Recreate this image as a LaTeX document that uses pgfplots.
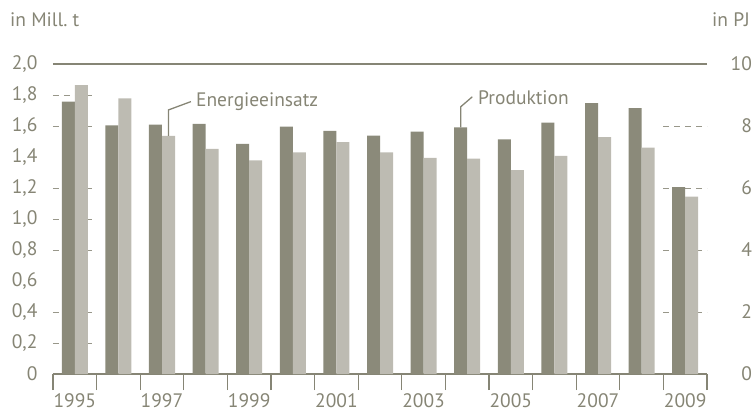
\documentclass[border=0pt]{standalone}
\usepackage{fontspec}
\setmainfont{PT Sans}
\usepackage{pgfplots}
\usepackage{pgfplotstable}
\pgfplotsset{compat=1.18}
\definecolor{darkbar}{HTML}{8B8A7A}
\definecolor{lightbar}{HTML}{BDBBB2}
\definecolor{txt}{HTML}{868575}

% Produktion in Mill. t, Energieeinsatz in PJ; idx 0 = 1995
\pgfplotstableread{
idx year prod  energy
0  1995 1.757 9.32
1  1996 1.604 8.89
2  1997 1.609 7.68
3  1998 1.613 7.26
4  1999 1.484 6.89
5  2000 1.596 7.15
6  2001 1.568 7.48
7  2002 1.538 7.15
8  2003 1.563 6.97
9  2004 1.591 6.95
10 2005 1.514 6.58
11 2006 1.622 7.04
12 2007 1.748 7.64
13 2008 1.716 7.30
14 2009 1.206 5.72
}\datatable

\pgfplotsset{
  base/.style={
    at={(0,0)}, anchor=south west,
    scale only axis, width=654pt, height=310pt,
    xmin=-0.5, xmax=14.5, ymin=0,
    major tick length=0pt,
    tick label style={font=\fontsize{19.5}{22}\selectfont, text=txt},
    ytick style={draw=none},
  },
}

\begin{document}
\begin{tikzpicture}[font=\fontsize{19.5}{22}\selectfont]
\useasboundingbox (-53pt,-39pt) rectangle (700pt,374pt);
\begin{axis}[base,
  ymax=2,
  separate axis lines,
  y axis line style={draw=none},
  x axis line style={draw=txt, line width=1.5pt},
  xtick pos=bottom,
  xtick={0,2,4,6,8,10,12,14},
  xticklabels={1995,1997,1999,2001,2003,2005,2007,2009},
  minor xtick={-0.5,0.5,1.5,2.5,3.5,4.5,5.5,6.5,7.5,8.5,9.5,10.5,11.5,12.5,13.5,14.5},
  minor tick length=16pt,
  tick align=outside,
  minor x tick style={draw=txt, line width=1.2pt},
  xticklabel style={yshift=-16pt},
  ytick={0,0.2,0.4,0.6,0.8,1,1.2,1.4,1.6,1.8,2},
  yticklabels={0,{0,2},{0,4},{0,6},{0,8},{1,0},{1,2},{1,4},{1,6},{1,8},{2,0}},
  yticklabel style={anchor=east, xshift=-12pt},
]
\pgfplotsinvokeforeach{0.2,0.4,0.8,1.0,1.2,1.6,1.8}{
  \draw[txt!85, line width=1pt, dash pattern=on 6pt off 5pt] (axis cs:-0.5,#1) -- (axis cs:0.5,#1);
}
\pgfplotsinvokeforeach{0.4,0.8,1.2,1.6}{
  \draw[txt!85, line width=1pt, dash pattern=on 6pt off 5pt] (axis cs:13.5,#1) -- ([xshift=4pt]axis cs:14.5,#1);
}
\addplot[ybar, bar width=13pt, bar shift=-6.5pt, fill=darkbar, draw=none]
  table[x=idx, y=prod] {\datatable};
\coordinate (p0) at ([xshift=-6.5pt]axis cs:9,1.591);
\draw[txt, line width=1.3pt] (p0) -- ([yshift=20.6pt]p0) -- ([xshift=11.6pt,yshift=30.6pt]p0);
\node[anchor=base west, inner sep=0pt, text=txt] at ([xshift=17.3pt,yshift=23pt]p0) {Produktion};
\draw[txt, line width=1.3pt] (axis cs:14.5,2) -- (axis cs:-0.5,2);
\end{axis}
\begin{axis}[base,
  ymax=10,
  hide x axis,
  axis y line*=right,
  y axis line style={draw=none},
  ytick={0,2,4,6,8,10},
  yticklabels={0,2,4,6,8,10},
  yticklabel style={anchor=east, xshift=48.5pt},
]
\addplot[ybar, bar width=13pt, bar shift=6.5pt, fill=lightbar, draw=none]
  table[x=idx, y=energy] {\datatable};
\coordinate (e0) at ([xshift=6.5pt]axis cs:2,7.68);
\draw[txt, line width=1.3pt] (e0) -- ([yshift=26pt]e0) -- ([xshift=22.4pt,yshift=34.3pt]e0);
\node[anchor=base west, inner sep=0pt, text=txt] at ([xshift=27.4pt,yshift=29.3pt]e0) {Energieeinsatz};
\end{axis}
\node[anchor=base west, inner sep=0pt, text=txt] at (-43pt,347pt) {in Mill.\ t};
\node[anchor=base west, inner sep=0pt, text=txt] at (659pt,347pt) {in PJ};
\end{tikzpicture}
\end{document}
